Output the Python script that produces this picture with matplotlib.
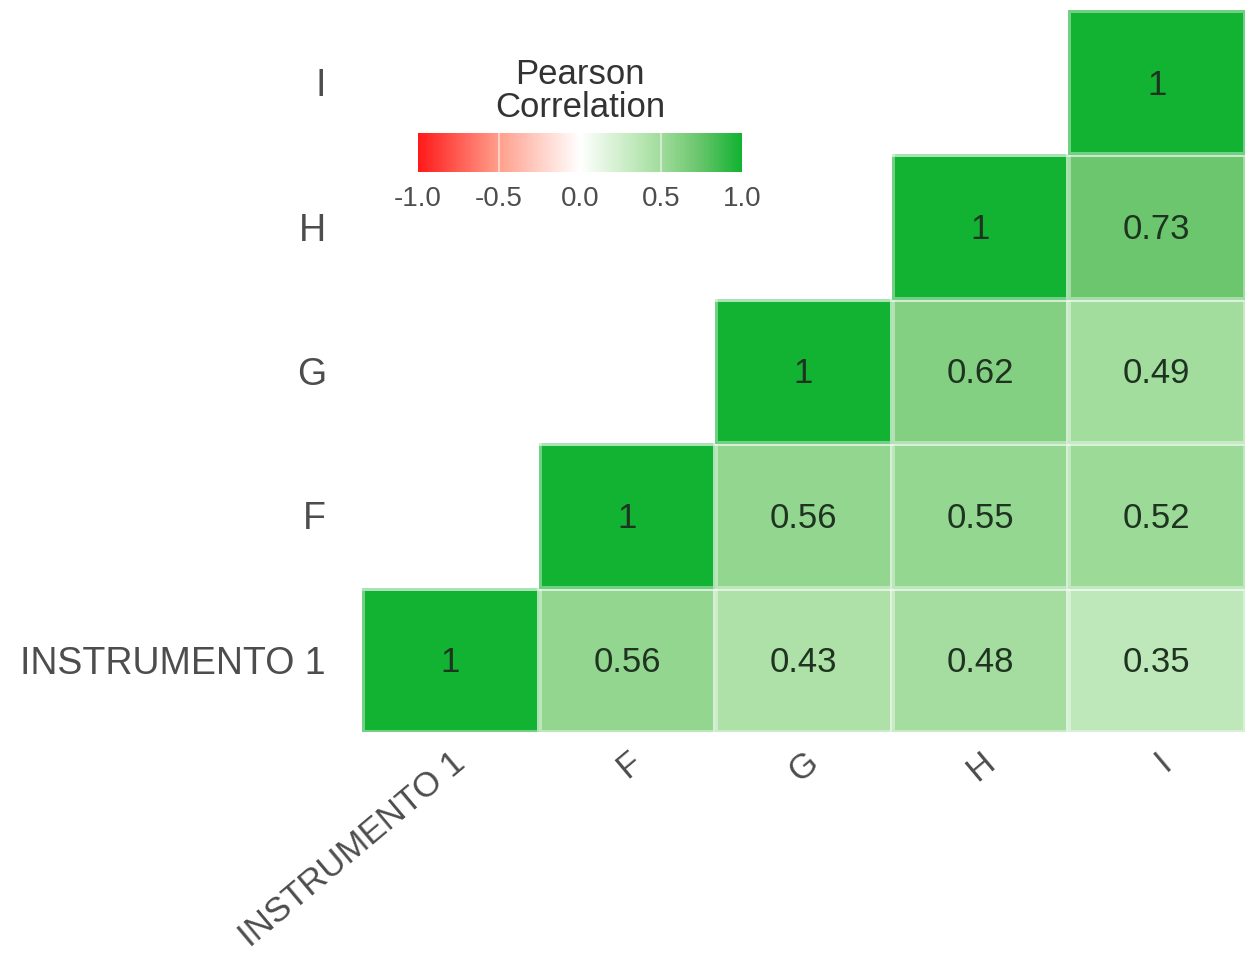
import matplotlib.pyplot as plt
import numpy as np
from matplotlib.colors import LinearSegmentedColormap

plt.rcParams['font.family'] = ['Liberation Sans', 'DejaVu Sans']

labels = ['INSTRUMENTO 1', 'F', 'G', 'H', 'I']

# rows from bottom to top, columns left to right; None = not drawn
row_inst1 = [1, 0.56, 0.43, 0.48, 0.35]
row_f = [None, 1, 0.56, 0.55, 0.52]
row_g = [None, None, 1, 0.62, 0.49]
row_h = [None, None, None, 1, 0.73]
row_i = [None, None, None, None, 1]

cbar_ticks = [-1.0, -0.5, 0.0, 0.5, 1.0]

rows = [row_inst1, row_f, row_g, row_h, row_i]
corr = np.array([[np.nan if v is None else v for v in r] for r in rows], dtype=float)
corr = np.ma.masked_invalid(corr)

# red - white - green, lighter mid-tones like a Lab gradient
stops = [(0.0, '#ff1a1a'), (0.25, '#ff9f8c'), (0.5, '#ffffff'),
         (0.675, '#bee8b9'), (0.75, '#a0dc9b'), (0.865, '#6cc66e'), (1.0, '#12b232')]
cmap = LinearSegmentedColormap.from_list('rwg', stops)

fig = plt.figure(figsize=(12.45, 9.59), dpi=100)
ax = fig.add_axes([0.2908, 0.2367, 0.7092, 0.7529])

mesh = ax.pcolormesh(np.arange(6) - 0.5, np.arange(6) - 0.5, corr, cmap=cmap,
                     vmin=-1, vmax=1, edgecolors=(1, 1, 1, 0.4), linewidth=2.5)

for i, r in enumerate(rows):
    for j, v in enumerate(r):
        if v is None:
            continue
        txt = '1' if v == 1 else f'{v:.2f}'
        ax.text(j, i - 0.02, txt, ha='center', va='center', fontsize=25, color='#1e3320')

ax.set_xlim(-0.5, 4.5)
ax.set_ylim(-0.5, 4.5)
for s in ax.spines.values():
    s.set_visible(False)
ax.set_xticks(range(5))
ax.set_yticks(range(5))
ax.set_xticklabels(labels, rotation=40, ha='right', va='top', rotation_mode='anchor',
                   fontsize=25, color='#4d4d4d')
ax.set_yticklabels(labels, fontsize=27, color='#4d4d4d')
ax.tick_params(axis='y', length=0, pad=26)
ax.tick_params(axis='x', length=0, pad=10)

cax = fig.add_axes([0.3357, 0.8206, 0.2602, 0.0407])
cb = fig.colorbar(mesh, cax=cax, orientation='horizontal', ticks=cbar_ticks)
cb.outline.set_visible(False)
cb.ax.tick_params(length=0, labelsize=20, labelcolor='#4d4d4d', pad=10)
cb.ax.set_xticklabels([f'{t:.1f}' for t in cbar_ticks])
for t in [-0.5, 0.5]:
    cax.axvline(t, color='white', alpha=0.5, lw=1.5)
fig.text(0.466, 0.905, 'Pearson\nCorrelation', ha='center', va='center',
         fontsize=25, color='#333333', linespacing=1.0)

fig.savefig('out.png', dpi=100)
